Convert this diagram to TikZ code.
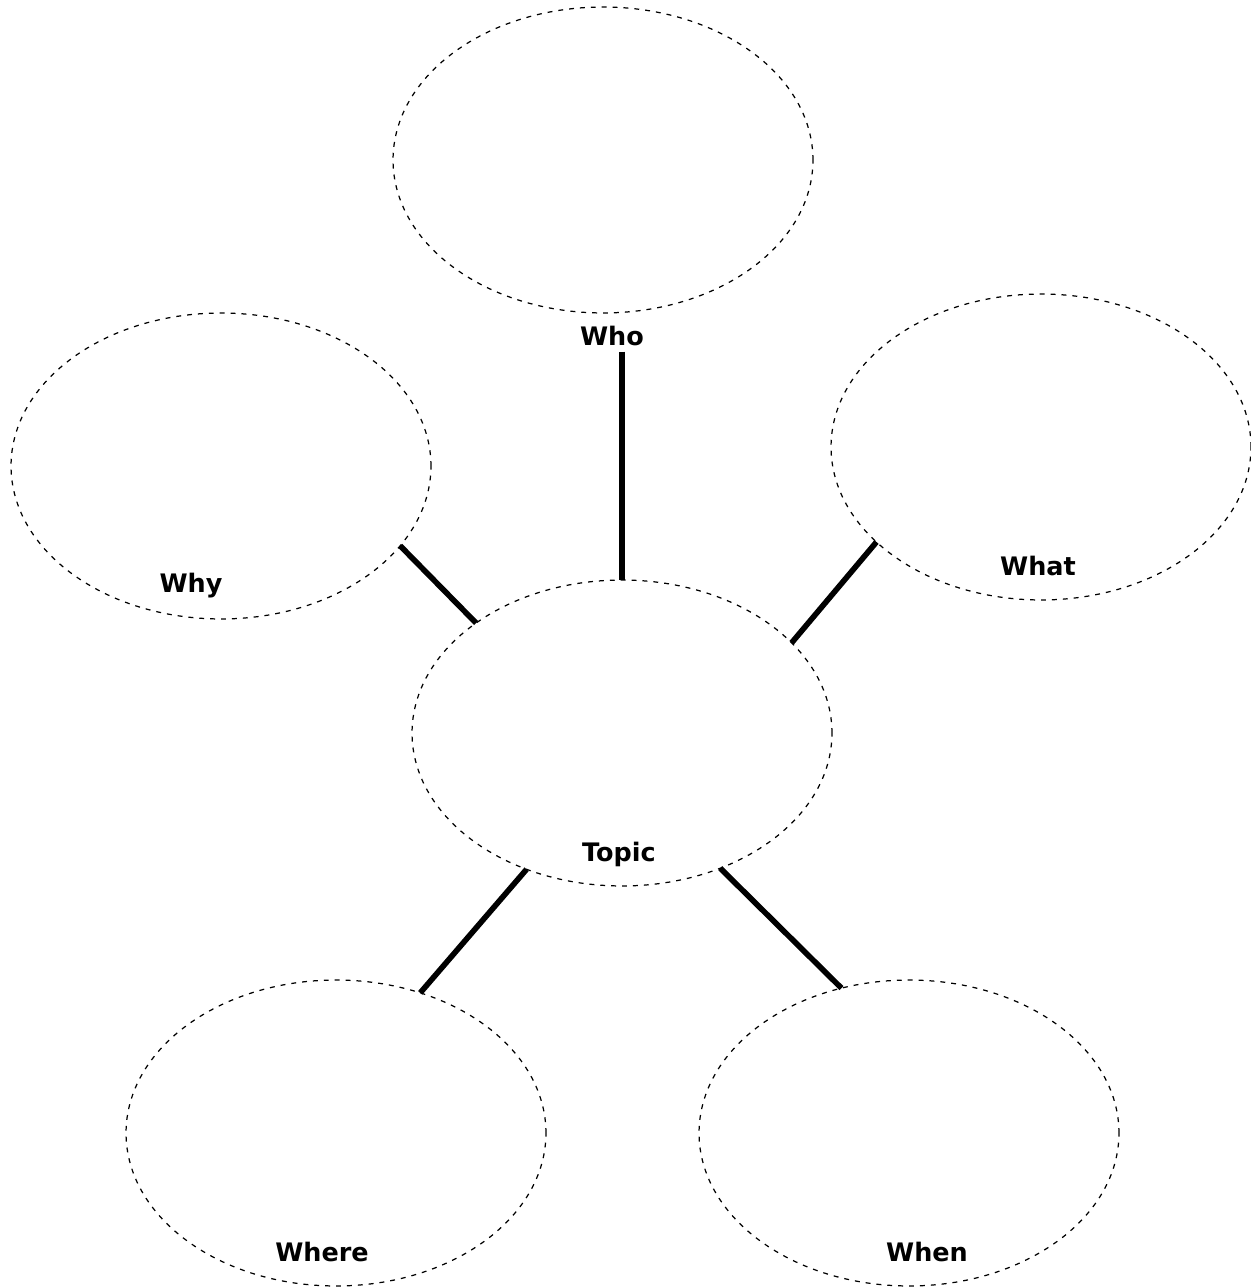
\documentclass[tikz,border=0pt]{standalone}
\usepackage{fontspec}
\setmainfont{DejaVu Sans}
\usetikzlibrary{shapes.geometric}

\begin{document}
\begin{tikzpicture}[x=0.02cm,y=-0.02cm,
    bubble/.style={ellipse,draw,dash pattern=on 2.8pt off 3.4pt,line width=0.7pt,
      minimum width=8.4cm,minimum height=6.12cm,inner sep=0pt,outer sep=0pt},
    tag/.style={anchor=base,font=\fontsize{14.5}{17}\selectfont\bfseries},
    spoke/.style={line width=3.2pt}]

    \useasboundingbox (0,0) rectangle (1250,1287);

    \node[bubble] (who) at (603,160) {};
    \node[bubble] (why) at (221,466) {};
    \node[bubble] (what) at (1041,447) {};
    \node[bubble] (topic) at (622,733) {};
    \node[bubble] (where) at (336,1133) {};
    \node[bubble] (when) at (909,1133) {};

    \node[tag] (wholbl) at (612,345) {Who};
    \node[tag] (whylbl) at (191,592) {Why};
    \node[tag] (whatlbl) at (1038,575) {What};
    \node[tag] (topiclbl) at (619,861) {Topic};
    \node[tag] (wherelbl) at (322,1261) {Where};
    \node[tag] (whenlbl) at (927,1261) {When};

    \path[spoke] (wholbl.south -| topic.north) edge (topic.north)
                 (why.-24.7) edge (topic.143.6)
                 (what.-150.7) edge (topic.28.8)
                 (topic.-125.6) edge (where.59.3)
                 (topic.-54.4) edge (when.115.6);

\end{tikzpicture}
\end{document}
